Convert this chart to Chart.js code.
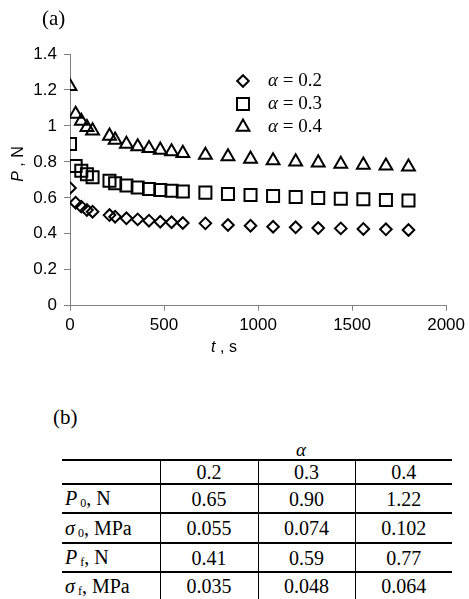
<!DOCTYPE html>
<html>
<head>
<meta charset="utf-8">
<script src="https://cdn.jsdelivr.net/npm/chart.js@4/dist/chart.umd.min.js"></script>
<style>
  html, body { margin: 0; padding: 0; background: #fff; }
  #wrap { position: relative; width: 469px; height: 599px; overflow: hidden; background: #fff; }
  #chart { position: absolute; left: 0; top: 0; }
  .lbl { position: absolute; font-family: "Liberation Serif", "DejaVu Serif", serif; font-size: 21px; color: #000; white-space: nowrap; }
  #tbl { position: absolute; left: 62px; top: 459px; width: 390px; border-collapse: collapse; table-layout: fixed;
         font-family: "Liberation Serif", "DejaVu Serif", serif; font-size: 20px; color: #000; }
  #tbl td { padding: 0; text-align: center; vertical-align: middle; line-height: 1; border-top: 2px solid #000; }
  #tbl td + td { border-left: 1.5px solid #000; }
  #tbl tr:last-child td { border-bottom: 2px solid #000; }
  #tbl td.rl { text-align: left; padding-left: 3px; }
  #tbl sub { font-size: 12px; vertical-align: -2px; margin-left: 3px; }
</style>
</head>
<body>
<div id="wrap">
  <canvas id="chart" width="469" height="400"></canvas>
  <div class="lbl" style="left:42px; top:6px;">(a)</div>
  <div class="lbl" style="left:53px; top:405px;">(b)</div>
  <div class="lbl" style="left:296px; top:439px; font-size:19px; font-style:italic;">α</div>
  <table id="tbl"></table>
</div>
<script>
// ---- Data ----
const times   = [0, 30, 60, 90, 120, 210, 240, 300, 360, 420, 480, 540, 600,
                 720, 840, 960, 1080, 1200, 1320, 1440, 1560, 1680, 1800];
const alpha02 = [0.655, 0.573, 0.551, 0.532, 0.523, 0.504, 0.495, 0.486, 0.480, 0.473, 0.467, 0.464, 0.460,
                 0.458, 0.449, 0.445, 0.439, 0.436, 0.432, 0.430, 0.427, 0.425, 0.421];
const alpha03 = [0.900, 0.777, 0.751, 0.731, 0.714, 0.695, 0.681, 0.668, 0.658, 0.649, 0.644, 0.640, 0.635,
                 0.629, 0.621, 0.616, 0.610, 0.605, 0.599, 0.595, 0.592, 0.588, 0.585];
const alpha04 = [1.220, 1.066, 1.027, 0.992, 0.973, 0.944, 0.922, 0.899, 0.885, 0.875, 0.866, 0.857, 0.848,
                 0.838, 0.829, 0.816, 0.807, 0.801, 0.795, 0.788, 0.783, 0.778, 0.772];
const alphaValues = ['0.2', '0.3', '0.4'];
const xTickValues = [0, 500, 1000, 1500, 2000];
const yTickValues = [0, 0.2, 0.4, 0.6, 0.8, 1.0, 1.2, 1.4];

// table (b)
const tableHeader = ['', '0.2', '0.3', '0.4'];
const tableRowLabels = [
  '<i>P</i><sub>0</sub>, N',
  '<i>σ</i><sub>0</sub>, MPa',
  '<i>P</i><sub>f</sub>, N',
  '<i>σ</i><sub>f</sub>, MPa'
];
const tableP0     = ['0.65', '0.90', '1.22'];
const tableSigma0 = ['0.055', '0.074', '0.102'];
const tablePf     = ['0.41', '0.59', '0.77'];
const tableSigmaF = ['0.035', '0.048', '0.064'];

// ---- Build table ----
(function buildTable() {
  const tbl = document.getElementById('tbl');
  const cg = document.createElement('colgroup');
  [98, 98, 97, 97].forEach(w => { const c = document.createElement('col'); c.style.width = w + 'px'; cg.appendChild(c); });
  tbl.appendChild(cg);
  const heights = [24, 29, 30, 29, 28];
  const rows = [tableHeader.map(v => v),
                [tableRowLabels[0]].concat(tableP0),
                [tableRowLabels[1]].concat(tableSigma0),
                [tableRowLabels[2]].concat(tablePf),
                [tableRowLabels[3]].concat(tableSigmaF)];
  rows.forEach((r, i) => {
    const tr = document.createElement('tr');
    tr.style.height = heights[i] + 'px';
    r.forEach((v, j) => {
      const td = document.createElement('td');
      td.innerHTML = v;
      if (j === 0) td.className = 'rl';
      tr.appendChild(td);
    });
    tbl.appendChild(tr);
  });
})();

// ---- Chart ----
const seriesValues = [alpha02, alpha03, alpha04];
const pointStyles = ['rectRot', 'rect', 'triangle'];
const pointRadii = [5.8, 8.5, 7.4];

const datasets = seriesValues.map((vals, i) => ({
  label: 'α = ' + alphaValues[i],
  data: times.map((t, k) => ({ x: t, y: vals[k] })),
  showLine: false,
  pointStyle: pointStyles[i],
  pointRadius: pointRadii[i],
  pointHoverRadius: pointRadii[i],
  pointBorderWidth: 2,
  borderColor: '#000',
  backgroundColor: 'rgba(0,0,0,0)',
  pointBackgroundColor: 'rgba(0,0,0,0)',
  pointBorderColor: '#000'
}));

const overlay = {
  id: 'overlay',
  afterDraw(chart) {
    const ctx = chart.ctx;
    ctx.save();
    // legend
    const lx = 243, ly0 = 81, dy = 23;
    datasets.forEach((ds, i) => {
      const y = ly0 + i * dy;
      ctx.strokeStyle = '#000';
      ctx.fillStyle = 'rgba(0,0,0,0)';
      ctx.lineWidth = 2;
      Chart.helpers.drawPoint(ctx, { pointStyle: ds.pointStyle, radius: ds.pointRadius, rotation: 0, borderWidth: 2 }, lx, y);
      ctx.fillStyle = '#000';
      ctx.textBaseline = 'middle';
      ctx.textAlign = 'left';
      ctx.font = 'italic 19px "Liberation Serif"';
      let x = 268;
      ctx.fillText('α', x, y);
      x += ctx.measureText('α').width;
      ctx.font = '19px "Liberation Serif"';
      ctx.fillText(' = ' + alphaValues[i], x, y);
    });
    // x-axis title
    ctx.textBaseline = 'middle';
    ctx.textAlign = 'left';
    ctx.font = 'italic 16px "Liberation Sans"';
    const tW = ctx.measureText('t').width;
    ctx.font = '16px "Liberation Sans"';
    const rest = ' , s';
    const rW = ctx.measureText(rest).width;
    const sx = 224 - (tW + rW) / 2;
    ctx.font = 'italic 16px "Liberation Sans"';
    ctx.fillText('t', sx, 348);
    ctx.font = '16px "Liberation Sans"';
    ctx.fillText(rest, sx + tW, 348);
    // y-axis title
    ctx.translate(19, 164);
    ctx.rotate(-Math.PI / 2);
    ctx.font = 'italic 16px "Liberation Sans"';
    const pW = ctx.measureText('P').width;
    ctx.font = '16px "Liberation Sans"';
    const rest2 = ' , N';
    const r2W = ctx.measureText(rest2).width;
    const sy = -(pW + r2W) / 2;
    ctx.font = 'italic 16px "Liberation Sans"';
    ctx.fillText('P', sy, 0);
    ctx.font = '16px "Liberation Sans"';
    ctx.fillText(rest2, sy + pW, 0);
    ctx.restore();
  }
};

Chart.defaults.font.family = '"Liberation Sans", Arial, sans-serif';
Chart.defaults.color = '#000';

new Chart(document.getElementById('chart'), {
  type: 'scatter',
  data: { datasets },
  options: {
    responsive: false,
    animation: false,
    devicePixelRatio: 1,
    layout: { padding: { top: 54, right: 22, left: 0, bottom: 0 } },
    plugins: { legend: { display: false }, tooltip: { enabled: false } },
    scales: {
      x: {
        type: 'linear', min: 0, max: 2000,
        afterBuildTicks: s => { s.ticks = xTickValues.map(v => ({ value: v })); },
        ticks: { color: '#000', font: { size: 17 }, padding: 4, maxRotation: 0, callback: v => String(v) },
        grid: { drawOnChartArea: false, drawTicks: true, tickLength: 5, color: '#808080', lineWidth: 1 },
        border: { display: true, color: '#808080', width: 1 },
        afterFit: s => { s.height = 400 - 305.7; }
      },
      y: {
        type: 'linear', min: 0, max: 1.4,
        afterBuildTicks: s => { s.ticks = yTickValues.map(v => ({ value: v })); },
        ticks: { color: '#000', font: { size: 17 }, padding: 7, callback: v => String(Math.round(v * 10) / 10) },
        grid: { drawOnChartArea: false, drawTicks: true, tickLength: 6, color: '#808080', lineWidth: 1 },
        border: { display: true, color: '#808080', width: 1 },
        afterFit: s => { s.width = 70; }
      }
    }
  },
  plugins: [overlay]
});
</script>
</body>
</html>
